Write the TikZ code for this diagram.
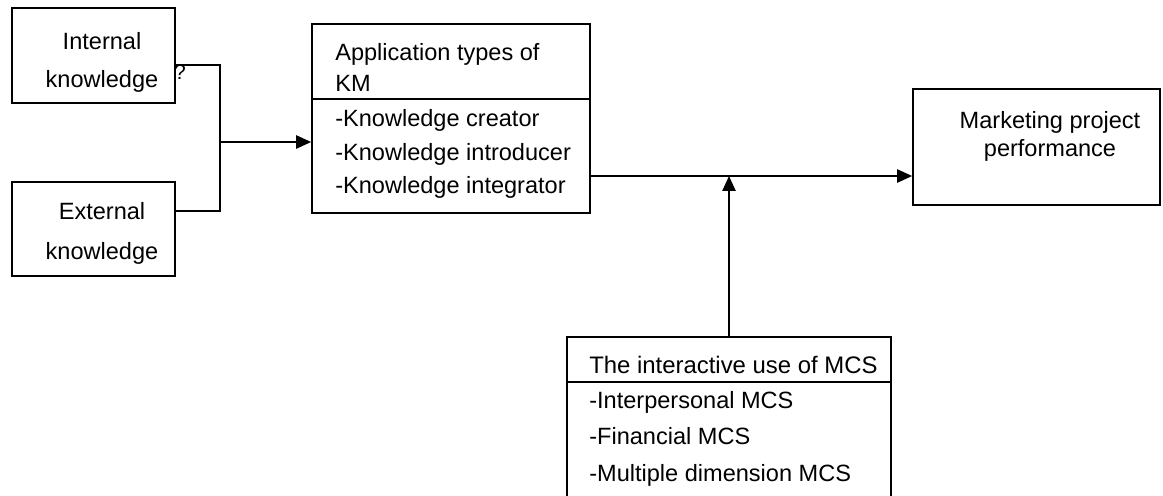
\documentclass[tikz,border=0pt]{standalone}
\usepackage{fontspec}
\setmainfont{Liberation Sans}
\usetikzlibrary{arrows.meta}
\newcommand\lsp[1]{\fontsize{13.4}{#1}\selectfont}
\tikzset{
  box/.style={draw,rectangle,line width=1pt,inner sep=0pt},
  lbl/.style={inner sep=0pt,font=\lsp{19pt}},
  link/.style={line width=1pt},
  arr/.style={line width=1pt,-{Triangle[length=8.5pt,width=7.5pt]}}
}
\begin{document}
\begin{tikzpicture}[x=0.02cm,y=-0.02cm]
\useasboundingbox (0,0) rectangle (1163,495);

% knowledge sources
\node[box,minimum width=3.26cm,minimum height=1.9cm] (int) at (93.5,55.5) {};
\node[box,minimum width=3.26cm,minimum height=1.88cm] (ext) at (93.5,229) {};
\node[lbl,align=center,font=\lsp{22pt}] (intlbl) at (102,62.5) {Internal\\knowledge};
\node[lbl,font=\fontsize{12}{14}\selectfont] (intq) at (180,72) {?};
\node[lbl,align=center,font=\lsp{22.8pt}] (extlbl) at (102,233) {External\\knowledge};

% KM application box
\node[box,minimum width=5.56cm,minimum height=3.78cm] (app) at (451,118.5) {};
\draw[link] ([yshift=-1.52cm]app.north west) -- ([yshift=-1.52cm]app.north east);
\node[lbl,anchor=west,align=left,font=\lsp{17.6pt}] (apphead) at (335,67.5) {Application types of\\KM};
\node[lbl,anchor=west,align=left] (applist) at (335,154) {-Knowledge creator\\-Knowledge introducer\\-Knowledge integrator};

% outcome
\node[box,minimum width=4.94cm,minimum height=2.32cm] (mkt) at (1036.5,147) {};
\node[lbl,align=center,font=\lsp{16pt}] (mktlbl) at (1050,136) {Marketing project\\performance};

% moderator
\node[box,minimum width=6.48cm,minimum height=4.06cm] (mcs) at (729,438.5) {};
\draw[link] ([yshift=-0.92cm]mcs.north west) -- ([yshift=-0.92cm]mcs.north east);
\node[lbl,anchor=west,font=\fontsize{13.6}{16}\selectfont] (mcshead) at (589,365) {The interactive use of MCS};
\node[lbl,anchor=west,align=left,font=\lsp{20.8pt}] (mcslist) at (589,438.5) {-Interpersonal MCS\\-Financial MCS\\-Multiple dimension MCS};

% connectors
\coordinate (join) at (220,142);
\coordinate (meet) at (729,176);
\draw[link] ([yshift=-0.19cm]int.east) -| (join);
\draw[link] ([yshift=0.36cm]ext.east) -| (join);
\draw[arr] (join) -- (app.west |- join);
\draw[arr] (app.east |- meet) -- (mkt.west |- meet);
\draw[arr] (mcs.north) -- (meet);
\end{tikzpicture}
\end{document}
